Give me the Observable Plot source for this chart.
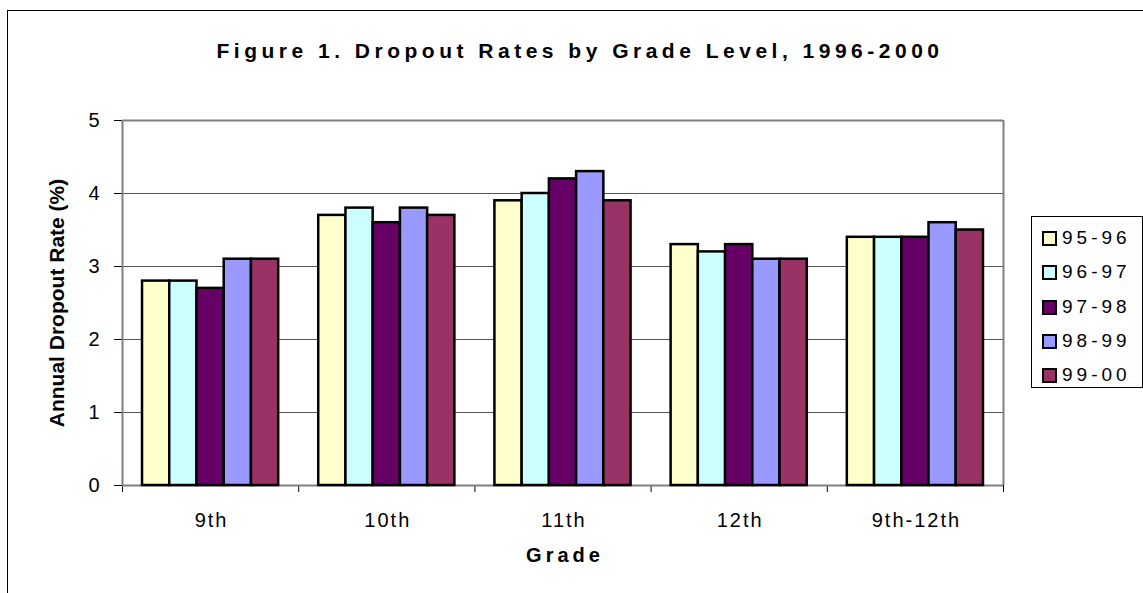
<!DOCTYPE html>
<html>
<head>
<meta charset="utf-8">
<script src="https://cdn.jsdelivr.net/npm/d3@7"></script>
<script src="https://cdn.jsdelivr.net/npm/@observablehq/plot@0.6"></script>
<style>
  html, body { margin: 0; padding: 0; background: #fff; }
  body { font-family: "Liberation Sans", Arial, Helvetica, sans-serif; color: #000; }
  #wrap { position: relative; width: 1143px; height: 593px; overflow: hidden; }
  #chart { position: absolute; left: 0; top: 0; }
  #frame { position: absolute; left: 7px; top: 10px; width: 1300px; height: 800px;
           border-left: 1px solid #000; border-top: 1px solid #000; pointer-events: none; }
  #title { position: absolute; left: 0; top: 40px; width: 1160px; text-align: center;
           font-weight: bold; font-size: 21px; line-height: 21px; letter-spacing: 4.5px; white-space: nowrap; }
  #legend { position: absolute; left: 1031px; top: 216px; width: 110px; height: 170px;
            border: 1px solid #000; background: #fff; }
  .item { position: absolute; left: 0; height: 20px; }
  .sw { position: absolute; left: 10px; top: 3px; width: 11px; height: 11px; border: 2px solid #000; }
  .lab { position: absolute; left: 30px; top: 0; font-size: 19px; line-height: 20px; letter-spacing: 4px; white-space: nowrap; }
</style>
</head>
<body>
<div id="wrap">
  <div id="chart"></div>
  <div id="frame"></div>
  <div id="title">Figure 1. Dropout Rates by Grade Level, 1996-2000</div>
  <div id="legend"></div>
</div>
<script>
// ---- data ----
const grades = ["9th", "10th", "11th", "12th", "9th-12th"];
const years = ["95-96", "96-97", "97-98", "98-99", "99-00"];
const r9596 = [2.8, 3.7, 3.9, 3.3, 3.4];
const r9697 = [2.8, 3.8, 4.0, 3.2, 3.4];
const r9798 = [2.7, 3.6, 4.2, 3.3, 3.4];
const r9899 = [3.1, 3.8, 4.3, 3.1, 3.6];
const r9900 = [3.1, 3.7, 3.9, 3.1, 3.5];
const yTicks = [0, 1, 2, 3, 4, 5];
const yLabel = "Annual Dropout Rate (%)";
const xLabel = "Grade";

// ---- styles ----
const colors = ["#FFFFCC", "#CCFFFF", "#660066", "#9999FF", "#993366"];
const groupPad = 20 / 176;              // gap on each side of a group, as a fraction of a category
const barW = (1 - 2 * groupPad) / years.length;

const series = [r9596, r9697, r9798, r9899, r9900];
const rows = grades.flatMap((g, gi) => years.map((yr, yi) => ({
  grade: g, year: yr, value: series[yi][gi],
  x1: gi + groupPad + yi * barW,
  x2: gi + groupPad + (yi + 1) * barW
})));
const boundaries = d3.range(grades.length + 1);

const plot = Plot.plot({
  width: 1143,
  height: 593,
  marginLeft: 122,
  marginRight: 140,
  marginTop: 120,
  marginBottom: 108,
  style: { background: "transparent", fontFamily: "Liberation Sans, Arial, sans-serif", fontSize: "20px", color: "#000" },
  x: { domain: [0, grades.length], ticks: boundaries, tickFormat: () => "", tickSize: 7, label: null },
  y: { domain: [0, 5], ticks: yTicks, tickFormat: d => String(d), tickSize: 8, tickPadding: 15, label: null },
  color: { domain: years, range: colors },
  marks: [
    Plot.ruleY(yTicks.filter(t => t > 0 && t < 5), { stroke: "#555", strokeWidth: 1 }),
    Plot.ruleY([5], { stroke: "#808080", strokeWidth: 2 }),
    Plot.ruleX([grades.length], { stroke: "#808080", strokeWidth: 2 }),
    Plot.ruleX([0], { stroke: "#808080", strokeWidth: 2, y1: 0, y2: 5 }),
    Plot.ruleY([0], { stroke: "#808080", strokeWidth: 2 }),
    Plot.rectY(rows, { x1: "x1", x2: "x2", y: "value", fill: "year", stroke: "#000", strokeWidth: 2.5 }),
    Plot.text(grades, { x: (d, i) => i + 0.5, y: () => 0, dy: 35, dx: 1, fontSize: 20 }),
    Plot.text([xLabel], { frameAnchor: "bottom", dy: 76, dx: 2, fontSize: 20, fontWeight: "bold" }),
    Plot.text([yLabel], { frameAnchor: "left", textAnchor: "middle", dx: -65, rotate: -90, fontSize: 21, fontWeight: "bold" })
  ]
});
document.getElementById("chart").appendChild(plot);
d3.select(plot).selectAll("text")
  .filter(function () { return grades.includes(this.textContent); })
  .style("letter-spacing", "2px");
d3.select(plot).selectAll("text")
  .filter(function () { return this.textContent === xLabel; })
  .style("letter-spacing", "4px");

// ---- legend ----
const legend = d3.select("#legend");
years.forEach((yr, i) => {
  const it = legend.append("div").attr("class", "item").style("top", (11 + i * 34.3) + "px");
  it.append("div").attr("class", "sw").style("background", colors[i]);
  it.append("div").attr("class", "lab").text(yr);
});
</script>
</body>
</html>
